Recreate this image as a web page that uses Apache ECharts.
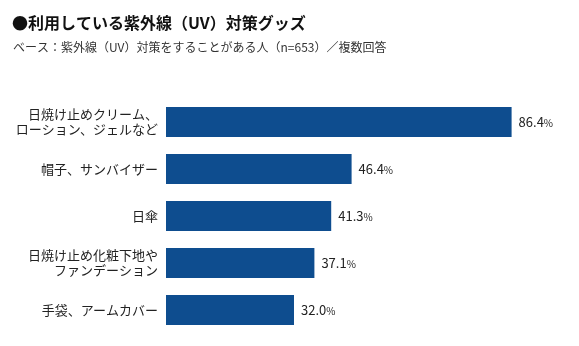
<!DOCTYPE html>
<html><head><meta charset="utf-8">
<script src="https://cdn.jsdelivr.net/npm/echarts@6/dist/echarts.min.js"></script>
<style>html,body{margin:0;padding:0;background:#fff}#c{width:579px;height:346px}</style>
</head><body><div id="c"></div>
<script>
const titleText = '●利用している紫外線（UV）対策グッズ';
const subtitleText = 'ベース：紫外線（UV）対策をすることがある人（n=653）／複数回答';
const categories = ['日焼け止めクリーム、\nローション、ジェルなど', '帽子、サンバイザー', '日傘', '日焼け止め化粧下地や\nファンデーション', '手袋、アームカバー'];
const values = [86.4, 46.4, 41.3, 37.1, 32.0];

const FONT = '"Noto Sans CJK JP", "Noto Sans", sans-serif';
const chart = echarts.init(document.getElementById('c'));
chart.setOption({
  animation: false,
  textStyle: { fontFamily: FONT },
  title: [
    { text: titleText, left: 7, top: 10, textStyle: { fontFamily: FONT, fontSize: 16, fontWeight: 'bold', color: '#111' } },
    { text: subtitleText, left: 8, top: 36, textStyle: { fontFamily: FONT, fontSize: 12, fontWeight: 'normal', color: '#333' } }
  ],
  grid: { left: 166, right: 13, top: 98.5, bottom: 12.5, containLabel: false },
  xAxis: { type: 'value', min: 0, max: 100, show: false },
  yAxis: {
    type: 'category', data: categories, inverse: true,
    axisLine: { show: false }, axisTick: { show: false },
    axisLabel: { margin: 8, fontSize: 13, color: '#222', lineHeight: 15, fontFamily: FONT, align: 'right' }
  },
  series: [{
    type: 'bar', data: values, barWidth: 30,
    itemStyle: { color: '#0e4d8f' },
    label: {
      show: true, position: 'right', distance: 7,
      formatter: p => '{n|' + p.value.toFixed(1) + '}{p|%}',
      rich: {
        n: { fontSize: 13, color: '#222', fontFamily: FONT },
        p: { fontSize: 10, color: '#222', fontFamily: FONT, padding: [3, 0, 0, 0] }
      }
    }
  }]
});
</script></body></html>
